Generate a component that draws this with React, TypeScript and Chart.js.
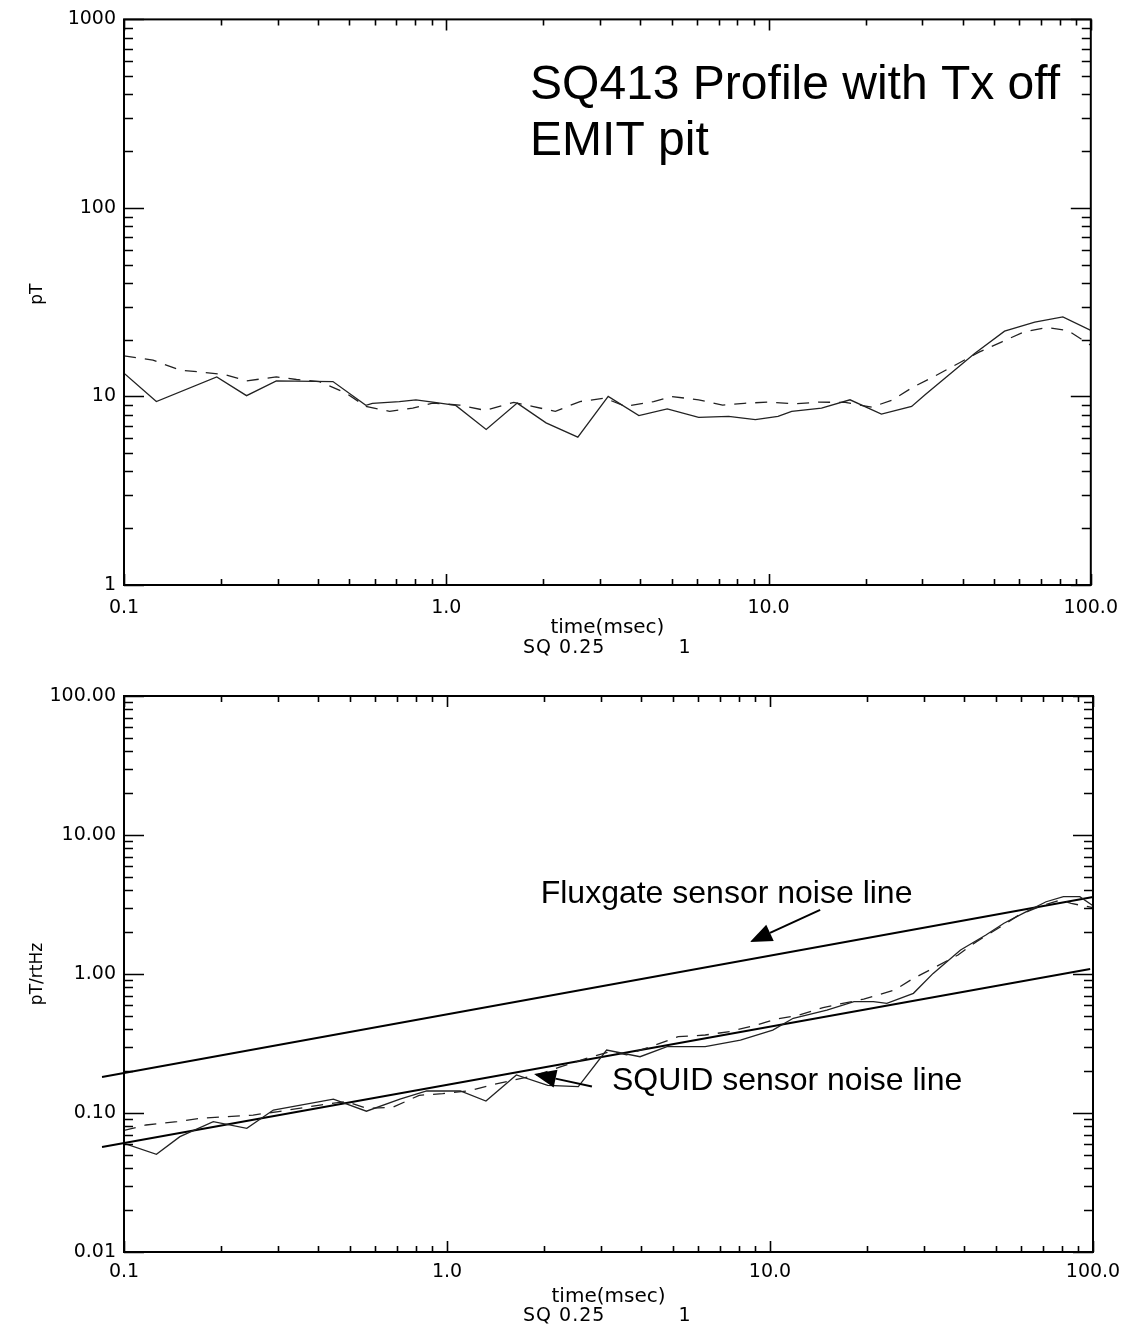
import React, { useEffect, useRef } from 'react';
import { Chart, registerables } from 'chart.js';
Chart.register(...registerables);

// ---------- axis ticks ----------
const X_TICKS = [0.1, 1, 10, 100];
const X_TICK_LABELS = ['0.1', '1.0', '10.0', '100.0'];
const TOP_Y_TICKS = [1, 10, 100, 1000];
const TOP_Y_TICK_LABELS = ['1', '10', '100', '1000'];
const BOT_Y_TICKS = [0.01, 0.1, 1, 10, 100];
const BOT_Y_TICK_LABELS = ['0.01', '0.10', '1.00', '10.00', '100.00'];

// ---------- top panel: pT ----------
const TOP_SOLID_X = [0.1, 0.126, 0.194, 0.24, 0.297, 0.445, 0.563, 0.59, 0.715, 0.805, 0.908, 1.07, 1.33, 1.66, 2.04, 2.56, 3.18, 3.96, 4.85, 6.07, 7.52, 9.1, 10.7, 11.8, 14.6, 17.9, 22.4, 27.8, 30.6, 43.6, 54, 67, 81.9, 100];
const TOP_SOLID_Y = [13.3, 9.4, 12.7, 10.1, 12.1, 12.0, 8.97, 9.2, 9.4, 9.6, 9.33, 8.97, 6.68, 9.22, 7.24, 6.08, 10.0, 7.91, 8.6, 7.75, 7.85, 7.54, 7.85, 8.34, 8.68, 9.6, 8.07, 8.86, 10.2, 16.9, 22.2, 24.8, 26.4, 22.4];
const TOP_DASH_X = [0.1, 0.123, 0.149, 0.172, 0.208, 0.24, 0.297, 0.343, 0.404, 0.489, 0.563, 0.667, 0.787, 0.908, 1.1, 1.32, 1.62, 1.85, 2.18, 2.6, 3.1, 3.6, 4.4, 5.0, 6.07, 7.2, 8.4, 10, 12.1, 14.3, 17.3, 20.9, 24.3, 27.8, 33, 38.9, 45, 53, 62, 73, 84.8, 100];
const TOP_DASH_Y = [16.4, 15.6, 13.8, 13.5, 13.0, 12.1, 12.7, 12.3, 12.0, 10.4, 8.86, 8.34, 8.68, 9.22, 9.0, 8.44, 9.3, 8.86, 8.34, 9.4, 9.8, 8.86, 9.4, 10.0, 9.6, 9.0, 9.2, 9.33, 9.15, 9.33, 9.3, 8.77, 9.6, 11.1, 12.9, 15.0, 17.2, 19.5, 22.0, 23.2, 22.4, 18.7];

// ---------- bottom panel: pT/rtHz ----------
const BOT_SOLID_X = [0.1, 0.126, 0.149, 0.189, 0.24, 0.29, 0.445, 0.563, 0.715, 0.865, 1.1, 1.32, 1.64, 2.05, 2.55, 3.12, 3.96, 4.8, 6.3, 8.1, 10.2, 11.8, 15, 18.2, 20.9, 23, 27.8, 32, 38.9, 46.6, 53, 62, 71.6, 81, 91, 100];
const BOT_SOLID_Y = [0.0605, 0.0505, 0.0676, 0.0866, 0.0776, 0.105, 0.126, 0.103, 0.126, 0.144, 0.144, 0.122, 0.188, 0.158, 0.155, 0.284, 0.254, 0.3, 0.3, 0.335, 0.395, 0.48, 0.55, 0.632, 0.632, 0.615, 0.726, 1.01, 1.49, 1.91, 2.32, 2.8, 3.31, 3.6, 3.6, 3.1];
const BOT_DASH_X = [0.1, 0.117, 0.146, 0.172, 0.208, 0.251, 0.297, 0.404, 0.489, 0.563, 0.68, 0.82, 0.97, 1.18, 1.37, 1.9, 2.28, 2.7, 3.2, 3.6, 4.4, 5.2, 6.3, 7.5, 9.1, 10.4, 12.3, 14.6, 19.5, 24.3, 27.8, 32.7, 38.2, 43.6, 51.8, 59, 68.2, 79, 85.6, 100];
const BOT_DASH_Y = [0.075, 0.082, 0.0866, 0.0915, 0.094, 0.0967, 0.102, 0.114, 0.121, 0.108, 0.11, 0.134, 0.138, 0.145, 0.159, 0.188, 0.217, 0.247, 0.277, 0.262, 0.308, 0.354, 0.364, 0.385, 0.43, 0.472, 0.507, 0.574, 0.66, 0.767, 0.93, 1.13, 1.37, 1.71, 2.19, 2.66, 3.05, 3.4, 3.22, 3.0];
const FLUX_X = [0.0855, 100];
const FLUX_Y = [0.1815, 3.58];
const SQUID_X = [0.0855, 98];
const SQUID_Y = [0.0569, 1.086];

const TOP_TITLE = ['SQ413 Profile with Tx off', 'EMIT pit'];
const FLUX_LABEL = 'Fluxgate sensor noise line';
const SQUID_LABEL = 'SQUID sensor noise line';

const IDL_FONT = '"DejaVu Sans", sans-serif';
const ARIAL = '"Liberation Sans", Arial, sans-serif';

const pts = (xs: number[], ys: number[]) => xs.map((x, i) => ({ x, y: ys[i] }));

const framePlugin = {
  id: 'idlFrame',
  afterDraw(chart: any) {
    const { ctx, chartArea: a, scales } = chart;
    const xs = scales.x, ys = scales.y;
    ctx.save();
    ctx.strokeStyle = '#000';
    ctx.lineWidth = 2;
    ctx.strokeRect(a.left, a.top, a.right - a.left, a.bottom - a.top);
    ctx.lineWidth = 1.6;
    const each = (scale: any, cb: (v: number, major: boolean) => void) => {
      const lo = Math.floor(Math.log10(scale.min) + 1e-9);
      const hi = Math.ceil(Math.log10(scale.max) - 1e-9);
      for (let k = lo; k <= hi; k++) {
        for (let m = 1; m <= 9; m++) {
          const v = m * Math.pow(10, k);
          if (v < scale.min * 0.9999 || v > scale.max * 1.0001) continue;
          cb(v, m === 1);
        }
      }
    };
    ctx.beginPath();
    each(xs, (v, major) => {
      const px = Math.round(xs.getPixelForValue(v)) + 0.5;
      const len = major ? 11 : 6;
      ctx.moveTo(px, a.bottom); ctx.lineTo(px, a.bottom - len);
      ctx.moveTo(px, a.top); ctx.lineTo(px, a.top + len);
    });
    each(ys, (v, major) => {
      const py = Math.round(ys.getPixelForValue(v)) + 0.5;
      const len = major ? 20 : 9;
      ctx.moveTo(a.left, py); ctx.lineTo(a.left + len, py);
      ctx.moveTo(a.right, py); ctx.lineTo(a.right - len, py);
    });
    ctx.stroke();
    ctx.restore();
  },
};

const textPlugin = {
  id: 'idlText',
  afterDraw(chart: any) {
    const o = chart.options.plugins.idlText;
    if (!o) return;
    const { ctx, chartArea: a, scales } = chart;
    const X = (v: number) => scales.x.getPixelForValue(v);
    const Y = (v: number) => scales.y.getPixelForValue(v);
    ctx.save();
    ctx.fillStyle = '#000';
    ctx.strokeStyle = '#000';
    // x title + footer
    ctx.font = `20px ${IDL_FONT}`;
    ctx.textAlign = 'center';
    ctx.textBaseline = 'middle';
    const cx = (a.left + a.right) / 2;
    ctx.fillText('time(msec)', cx, a.bottom + o.xTitleOffset);
    ctx.font = `19px ${IDL_FONT}`;
    (ctx as any).letterSpacing = '1px';
    ctx.textAlign = 'left';
    ctx.fillText('SQ 0.25', 523, a.bottom + o.footOffset);
    ctx.textAlign = 'center';
    ctx.fillText('1', 685, a.bottom + o.footOffset);
    (ctx as any).letterSpacing = '0px';
    // y title
    ctx.save();
    ctx.translate(38, (a.top + a.bottom) / 2 + o.yTitleShift);
    ctx.rotate(-Math.PI / 2);
    ctx.font = `17px ${IDL_FONT}`;
    ctx.textAlign = 'center';
    ctx.textBaseline = 'middle';
    ctx.fillText(o.yTitle, 0, 0);
    ctx.restore();
    // annotations
    (o.texts || []).forEach((t: any) => {
      ctx.font = `${t.size}px ${ARIAL}`;
      ctx.textAlign = 'left';
      ctx.textBaseline = 'alphabetic';
      ctx.fillText(t.text, X(t.x), Y(t.y));
    });
    (o.arrows || []).forEach((ar: any) => {
      const x0 = X(ar.from[0]), y0 = Y(ar.from[1]);
      const x1 = X(ar.to[0]), y1 = Y(ar.to[1]);
      const ang = Math.atan2(y1 - y0, x1 - x0);
      const L = 22, W = 9;
      const bx = x1 - L * Math.cos(ang), by = y1 - L * Math.sin(ang);
      ctx.lineWidth = 2;
      ctx.beginPath();
      ctx.moveTo(x0, y0);
      ctx.lineTo(bx, by);
      ctx.stroke();
      ctx.beginPath();
      ctx.moveTo(x1, y1);
      ctx.lineTo(bx + W * Math.sin(ang), by - W * Math.cos(ang));
      ctx.lineTo(bx - W * Math.sin(ang), by + W * Math.cos(ang));
      ctx.closePath();
      ctx.fill();
    });
    ctx.restore();
  },
};

function buildConfig(p: any) {
  return {
    type: 'line',
    data: { datasets: p.datasets },
    options: {
      responsive: false,
      animation: false,
      devicePixelRatio: 1,
      layout: { padding: { top: p.padTop, right: 37, left: 0, bottom: 0 } },
      elements: { point: { radius: 0 }, line: { tension: 0 } },
      plugins: {
        legend: { display: false },
        tooltip: { enabled: false },
        idlText: p.text,
      },
      scales: {
        x: {
          type: 'logarithmic',
          min: 0.1,
          max: 100,
          grid: { display: false, drawTicks: false },
          border: { display: false },
          afterFit: (s: any) => { s.height = p.xHeight; },
          afterBuildTicks: (s: any) => { s.ticks = X_TICKS.map((v) => ({ value: v })); },
          ticks: {
            autoSkip: false,
            maxRotation: 0,
            padding: p.xPad,
            color: '#000',
            font: { family: IDL_FONT, size: 19 },
            callback: (v: any) => { const i = X_TICKS.indexOf(Number(v)); return i >= 0 ? X_TICK_LABELS[i] : ''; },
          },
        },
        y: {
          type: 'logarithmic',
          min: p.yTicks[0],
          max: p.yTicks[p.yTicks.length - 1],
          grid: { display: false, drawTicks: false },
          border: { display: false },
          afterFit: (s: any) => { s.width = 124; },
          afterBuildTicks: (s: any) => { s.ticks = p.yTicks.map((v: number) => ({ value: v })); },
          ticks: {
            autoSkip: false,
            padding: 8,
            color: '#000',
            font: { family: IDL_FONT, size: 19 },
            callback: (v: any) => {
              const i = p.yTicks.findIndex((t: number) => Math.abs(t - Number(v)) / t < 1e-6);
              return i >= 0 ? p.yLabels[i] : '';
            },
          },
        },
      },
    },
    plugins: [framePlugin, textPlugin],
  } as any;
}

const solid = (xs: number[], ys: number[]) => ({ data: pts(xs, ys), borderColor: '#222', borderWidth: 1.3, fill: false });
const dashed = (xs: number[], ys: number[]) => ({ data: pts(xs, ys), borderColor: '#222', borderWidth: 1.3, borderDash: [12, 9], fill: false });
const noise = (xs: number[], ys: number[]) => ({ data: pts(xs, ys), borderColor: '#000', borderWidth: 2, fill: false, clip: false });

function ChartCanvas({ make, top }: { make: () => any; top: number }) {
  const ref = useRef<HTMLCanvasElement>(null);
  useEffect(() => {
    const c = new Chart(ref.current as HTMLCanvasElement, make());
    return () => c.destroy();
  }, []);
  return (
    <canvas
      ref={ref}
      width={1130}
      height={662}
      style={{ position: 'absolute', left: 0, top, width: 1130, height: 662 }}
    />
  );
}

export default function App() {
  const makeTop = () =>
    buildConfig({
      datasets: [solid(TOP_SOLID_X, TOP_SOLID_Y), dashed(TOP_DASH_X, TOP_DASH_Y)],
      yTicks: TOP_Y_TICKS,
      yLabels: TOP_Y_TICK_LABELS,
      padTop: 15,
      xHeight: 77,
      xPad: 12,
      text: {
        yTitle: 'pT',
        yTitleShift: -8,
        xTitleOffset: 43,
        footOffset: 63,
        texts: [
          { text: TOP_TITLE[0], x: 1.82, y: 379, size: 48 },
          { text: TOP_TITLE[1], x: 1.82, y: 190, size: 48 },
        ],
        arrows: [],
      },
    });
  const makeBottom = () =>
    buildConfig({
      datasets: [
        solid(BOT_SOLID_X, BOT_SOLID_Y),
        dashed(BOT_DASH_X, BOT_DASH_Y),
        noise(FLUX_X, FLUX_Y),
        noise(SQUID_X, SQUID_Y),
      ],
      yTicks: BOT_Y_TICKS,
      yLabels: BOT_Y_TICK_LABELS,
      padTop: 34,
      xHeight: 72,
      xPad: 9,
      text: {
        yTitle: 'pT/rtHz',
        yTitleShift: 0,
        xTitleOffset: 45,
        footOffset: 64,
        texts: [
          { text: FLUX_LABEL, x: 1.95, y: 3.24, size: 32 },
          { text: SQUID_LABEL, x: 3.24, y: 0.146, size: 32 },
        ],
        arrows: [
          { from: [14.3, 2.89], to: [8.67, 1.7] },
          { from: [2.81, 0.155], to: [1.86, 0.191] },
        ],
      },
    });
  return (
    <div style={{ position: 'absolute', left: 0, top: 0, width: 1130, height: 1324, background: '#fff' }}>
      <ChartCanvas make={makeTop} top={0} />
      <ChartCanvas make={makeBottom} top={662} />
    </div>
  );
}
